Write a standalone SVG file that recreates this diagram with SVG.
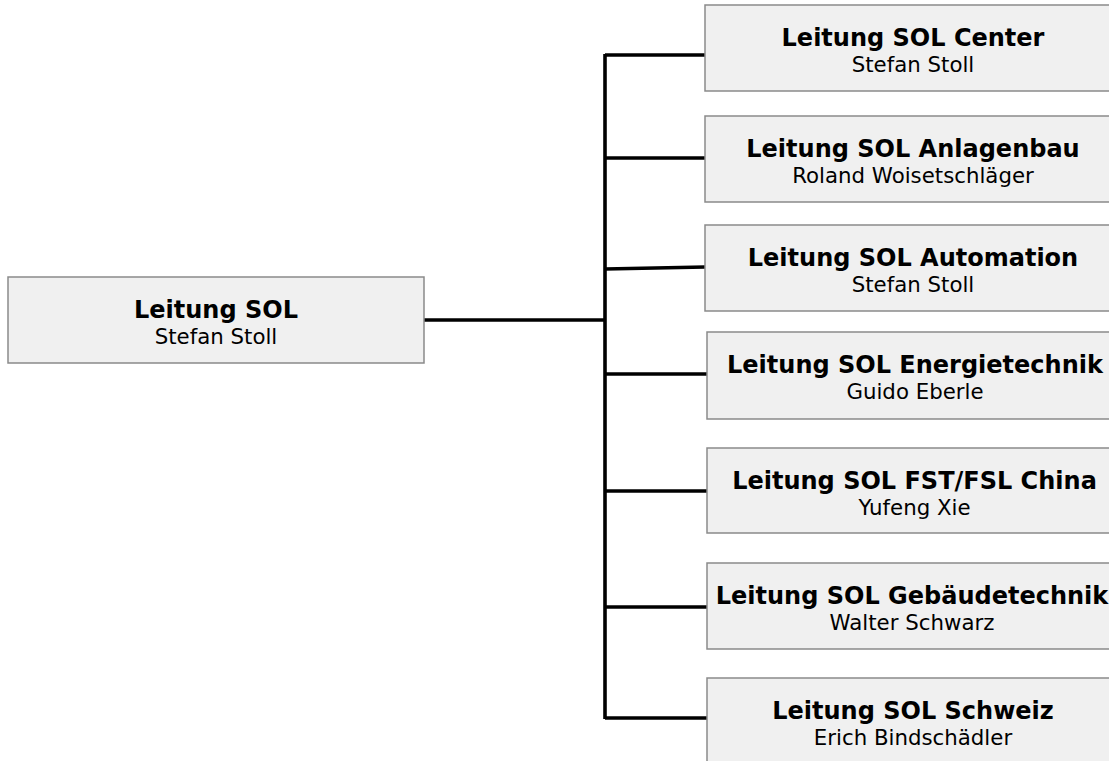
<svg xmlns="http://www.w3.org/2000/svg" width="1109" height="761" viewBox="0 0 1109 761">
<style>
.box{fill:#f0f0f0;stroke:#8a8a8a;stroke-width:1.5}
.t{font-family:"DejaVu Sans",Verdana,sans-serif;font-weight:bold;font-size:24px;fill:#000;text-anchor:middle}
.n{font-family:"DejaVu Sans",Verdana,sans-serif;font-size:21.3px;fill:#000;text-anchor:middle}
.c{fill:none;stroke:#000;stroke-width:3.6}
</style>
<rect width="1109" height="761" fill="#fff"/>
<g id="connectors">
<path class="c" d="M424 320H605"/>
<path class="c" d="M605 54V719"/>
<path class="c" d="M605 55H705"/>
<path class="c" d="M605 158H705"/>
<path class="c" d="M605 269L705 267"/>
<path class="c" d="M605 374H707"/>
<path class="c" d="M605 491H707"/>
<path class="c" d="M605 607H707"/>
<path class="c" d="M605 718H707"/>
</g>
<g id="root">
<rect class="box" x="8" y="277" width="416" height="86"/>
<text class="t" x="216" y="318">Leitung SOL</text>
<text class="n" x="216" y="344">Stefan Stoll</text>
</g>
<g id="center">
<rect class="box" x="705" y="5" width="420" height="86"/>
<text class="t" x="913" y="46">Leitung SOL Center</text>
<text class="n" x="913" y="72">Stefan Stoll</text>
</g>
<g id="anlagenbau">
<rect class="box" x="705" y="116" width="420" height="86"/>
<text class="t" x="913" y="157">Leitung SOL Anlagenbau</text>
<text class="n" x="913" y="183">Roland Woisetschläger</text>
</g>
<g id="automation">
<rect class="box" x="705" y="225" width="420" height="86"/>
<text class="t" x="913" y="266">Leitung SOL Automation</text>
<text class="n" x="913" y="292">Stefan Stoll</text>
</g>
<g id="energietechnik">
<rect class="box" x="707" y="332" width="420" height="87"/>
<text class="t" x="915" y="373">Leitung SOL Energietechnik</text>
<text class="n" x="915" y="399">Guido Eberle</text>
</g>
<g id="china">
<rect class="box" x="707" y="448" width="420" height="85"/>
<text class="t" x="914.5" y="489">Leitung SOL FST/FSL China</text>
<text class="n" x="914.5" y="515">Yufeng Xie</text>
</g>
<g id="gebaeudetechnik">
<rect class="box" x="707" y="563" width="420" height="86"/>
<text class="t" x="912" y="604">Leitung SOL Gebäudetechnik</text>
<text class="n" x="912" y="630">Walter Schwarz</text>
</g>
<g id="schweiz">
<rect class="box" x="707" y="678" width="420" height="90"/>
<text class="t" x="913" y="719">Leitung SOL Schweiz</text>
<text class="n" x="913" y="745">Erich Bindschädler</text>
</g>
</svg>
